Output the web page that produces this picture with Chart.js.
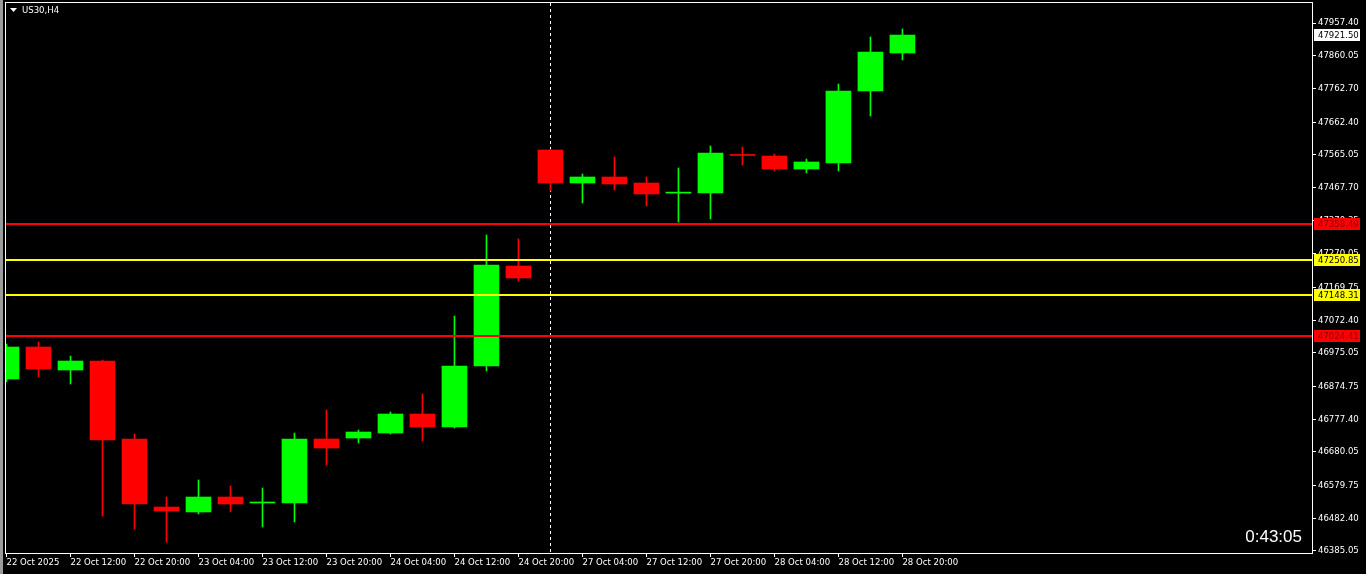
<!DOCTYPE html>
<html>
<head>
<meta charset="utf-8">
<title>US30,H4</title>
<script src="https://cdn.jsdelivr.net/npm/chart.js@4.4.1/dist/chart.umd.min.js"></script>
<style>
  html, body { margin: 0; padding: 0; background: #000; overflow: hidden; }
  #wrap { position: relative; width: 1366px; height: 574px; }
</style>
</head>
<body>
<div id="wrap"><canvas id="chart"></canvas></div>
<script>
// ─── Données (US30, H4) ──────────────────
const barTimes = [
  '22 Oct 04:00', '22 Oct 08:00', '22 Oct 12:00', '22 Oct 16:00', '22 Oct 20:00',
  '23 Oct 00:00', '23 Oct 04:00', '23 Oct 08:00', '23 Oct 12:00', '23 Oct 16:00', '23 Oct 20:00',
  '24 Oct 00:00', '24 Oct 04:00', '24 Oct 08:00', '24 Oct 12:00', '24 Oct 16:00', '24 Oct 20:00',
  '27 Oct 00:00', '27 Oct 04:00', '27 Oct 08:00', '27 Oct 12:00', '27 Oct 16:00', '27 Oct 20:00',
  '28 Oct 00:00', '28 Oct 04:00', '28 Oct 08:00', '28 Oct 12:00', '28 Oct 16:00', '28 Oct 20:00'
];
const opens  = [46897.2, 46992.5, 46924.0, 46950.8, 46718.6, 46516.0, 46501.2, 46545.8, 46528.0, 46528.0,
                46718.6, 46721.5, 46736.4, 46793.0, 46754.3, 46935.9, 47233.7, 47579.2, 47480.9, 47498.8,
                47480.9, 47450.8, 47451.1, 47565.8, 47561.3, 47522.6, 47540.5, 47754.9, 47868.1];
const highs  = [47001.5, 47007.4, 46965.7, 46953.8, 46733.4, 46545.8, 46596.5, 46578.6, 46572.6, 46736.4,
                46804.9, 46745.4, 46799.0, 46852.6, 47084.8, 47326.1, 47314.2, 47580.5, 47507.7, 47558.3,
                47498.8, 47525.6, 47591.1, 47588.1, 47567.3, 47552.4, 47775.7, 47915.7, 47939.5];
const lows   = [46889.2, 46903.2, 46882.3, 46489.2, 46450.5, 46411.8, 46495.2, 46501.2, 46456.5, 46471.4,
                46641.1, 46706.6, 46733.4, 46712.6, 46751.3, 46921.1, 47189.1, 47457.1, 47421.4, 47460.1,
                47412.4, 47364.8, 47373.7, 47534.5, 47516.7, 47510.7, 47516.7, 47680.4, 47847.2];
const closes = [46992.5, 46927.0, 46950.8, 46715.6, 46525.0, 46504.1, 46545.8, 46525.0, 46530.9, 46718.6,
                46691.7, 46739.4, 46793.0, 46754.3, 46935.9, 47236.7, 47198.0, 47480.9, 47498.8, 47477.9,
                47448.2, 47451.6, 47570.3, 47562.8, 47522.6, 47543.5, 47754.9, 47871.0, 47921.5];

// Étiquettes de l'axe du temps (une barre sur deux)
const xTickLabels = ['22 Oct 2025', '22 Oct 12:00', '22 Oct 20:00', '23 Oct 04:00', '23 Oct 12:00',
                     '23 Oct 20:00', '24 Oct 04:00', '24 Oct 12:00', '24 Oct 20:00', '27 Oct 04:00',
                     '27 Oct 12:00', '27 Oct 20:00', '28 Oct 04:00', '28 Oct 12:00', '28 Oct 20:00'];
const xTickBars = [0, 2, 4, 6, 8, 10, 12, 14, 16, 18, 20, 22, 24, 26, 28];

// Graduations de l'axe des prix
const yTicks = [47957.40, 47860.05, 47762.70, 47662.40, 47565.05, 47467.70, 47370.35, 47270.05, 47169.75,
                47072.40, 46975.05, 46874.75, 46777.40, 46680.05, 46579.75, 46482.40, 46385.05];

// Niveaux horizontaux
const redLevels    = [47358.49, 47024.41];
const yellowLevels = [47250.85, 47148.31];
const separatorBar = barTimes.indexOf('27 Oct 00:00');
const timeLeft = '0:43:05';

// ─── Couleurs ────────────────────────────
const BULL = '#00ff00';
const BEAR = '#ff0000';
const YELLOW = '#ffff00';
const AXIS_FONT = { family: '"DejaVu Sans Condensed", "DejaVu Sans", sans-serif', size: 9.5 };

const candleColors = closes.map((c, i) => (c >= opens[i] ? BULL : BEAR));

// ─── Plugin style MT4 ────────────────────
const mt4Plugin = {
  id: 'mt4',
  beforeDatasetsDraw(chart) {
    const { ctx, chartArea: a, scales: { x } } = chart;
    const sx = Math.floor(x.getPixelForValue(separatorBar)) + 0.5;
    ctx.save();
    ctx.strokeStyle = '#ffffff';
    ctx.lineWidth = 1;
    ctx.setLineDash([3, 3]);
    ctx.beginPath();
    ctx.moveTo(sx, a.top);
    ctx.lineTo(sx, a.bottom);
    ctx.stroke();
    ctx.restore();
  },
  afterDatasetsDraw(chart) {
    const { ctx, chartArea: a, scales: { y } } = chart;
    const drawLevel = (v, color) => {
      const py = Math.round(y.getPixelForValue(v));
      ctx.fillStyle = color;
      ctx.fillRect(a.left, py - 1, a.right - a.left, 2);
    };
    ctx.save();
    redLevels.forEach(v => drawLevel(v, BEAR));
    yellowLevels.forEach(v => drawLevel(v, YELLOW));
    ctx.restore();
  },
  afterDraw(chart) {
    const { ctx, chartArea: a, scales: { y } } = chart;
    ctx.save();
    // bord gauche de la fenêtre
    ctx.fillStyle = '#9a9a9a';
    ctx.fillRect(0, 0, 3, chart.height);
    // cadre
    ctx.strokeStyle = '#ffffff';
    ctx.lineWidth = 1;
    ctx.strokeRect(a.left - 0.5, a.top - 0.5, a.right - a.left + 1, a.bottom - a.top + 1);

    // étiquettes de prix sur l'axe
    ctx.font = `${AXIS_FONT.size}px ${AXIS_FONT.family}`;
    ctx.textBaseline = 'middle';
    ctx.textAlign = 'left';
    const priceTag = (v, bg, fg) => {
      const py = Math.round(y.getPixelForValue(v));
      ctx.fillStyle = bg;
      ctx.fillRect(a.right + 2, py - 6, 46, 12);
      ctx.fillStyle = fg;
      ctx.fillText(v.toFixed(2), a.right + 6, py + 0.5);
    };
    redLevels.forEach(v => priceTag(v, BEAR, '#8a0000'));
    yellowLevels.forEach(v => priceTag(v, YELLOW, '#000000'));
    priceTag(closes[closes.length - 1], '#ffffff', '#000000');

    // titre
    ctx.fillStyle = '#ffffff';
    ctx.beginPath();
    ctx.moveTo(10, 8);
    ctx.lineTo(17, 8);
    ctx.lineTo(13.5, 12);
    ctx.closePath();
    ctx.fill();
    ctx.fillText('US30,H4', 22, 10.5);

    // compte à rebours
    ctx.font = '17px "Liberation Sans", Arial, sans-serif';
    ctx.textAlign = 'right';
    ctx.textBaseline = 'alphabetic';
    ctx.fillText(timeLeft, 1302, 542);
    ctx.restore();
  }
};

// ─── Graphique ───────────────────────────
const ctx = document.getElementById('chart').getContext('2d');
new Chart(ctx, {
  type: 'bar',
  data: {
    datasets: [
      {
        label: 'Corps',
        data: opens.map((o, i) => ({ x: i, y: [o, closes[i]] })),
        backgroundColor: candleColors,
        borderWidth: 0,
        barThickness: 25,
        minBarLength: 1,
        grouped: false
      },
      {
        label: 'Mèches',
        data: lows.map((l, i) => ({ x: i, y: [l, highs[i]] })),
        backgroundColor: candleColors,
        borderWidth: 0,
        barThickness: 1,
        grouped: false
      }
    ]
  },
  options: {
    responsive: true,
    maintainAspectRatio: false,
    animation: false,
    devicePixelRatio: 1,
    layout: { padding: { top: 3, left: 6, right: 0, bottom: 0 } },
    plugins: { legend: { display: false }, tooltip: { enabled: false } },
    scales: {
      x: {
        type: 'linear',
        offset: false,
        min: -0.016,
        max: 40.8,
        afterBuildTicks: s => { s.ticks = xTickBars.map(v => ({ value: v })); },
        afterFit: s => { s.height = 21; s.paddingLeft = 0; s.paddingRight = 0; },
        grid: { display: true, offset: false, drawOnChartArea: false, drawTicks: true, tickLength: 4, color: '#ffffff' },
        border: { display: false },
        ticks: {
          autoSkip: false,
          maxRotation: 0,
          align: 'start',
          padding: 0,
          color: '#ffffff',
          font: AXIS_FONT,
          callback: v => xTickLabels[xTickBars.indexOf(v)] ?? ''
        }
      },
      y: {
        position: 'right',
        min: 46379.09,
        max: 48016.96,
        afterBuildTicks: s => { s.ticks = yTicks.map(v => ({ value: v })); },
        afterFit: s => { s.width = 54; s.paddingTop = 0; s.paddingBottom = 0; },
        grid: { display: true, drawOnChartArea: false, drawTicks: true, tickLength: 4, color: '#ffffff' },
        border: { display: false },
        ticks: {
          autoSkip: false,
          padding: 2,
          color: '#ffffff',
          font: AXIS_FONT,
          callback: v => Number(v).toFixed(2)
        }
      }
    }
  },
  plugins: [mt4Plugin]
});
</script>
</body>
</html>
